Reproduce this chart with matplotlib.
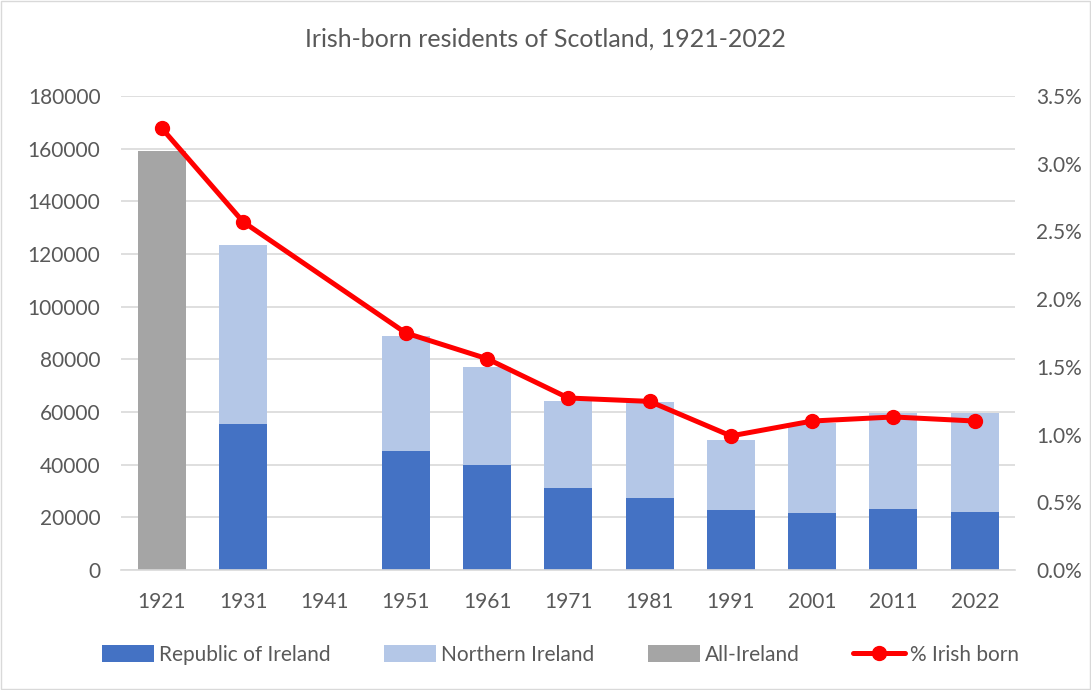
import numpy as np
import matplotlib.pyplot as plt
from matplotlib.patches import Rectangle

years = ['1921', '1931', '1941', '1951', '1961', '1971', '1981', '1991', '2001', '2011', '2022']
republic = [0, 55300, 0, 45100, 39800, 31100, 27300, 22700, 21800, 23100, 22000]
northern = [0, 68200, 0, 43600, 37100, 33000, 36400, 26500, 34000, 36700, 37500]
all_ireland = [159100, 0, 0, 0, 0, 0, 0, 0, 0, 0, 0]
pct_years = ['1921', '1931', '1951', '1961', '1971', '1981', '1991', '2001', '2011', '2022']
pct_irish = [3.26, 2.57, 1.75, 1.56, 1.27, 1.245, 0.99, 1.10, 1.13, 1.10]

txt = '#595959'
plt.rcParams['font.family'] = ['Lato', 'DejaVu Sans']

fig = plt.figure(figsize=(10.91, 6.90), dpi=100)
ax = fig.add_axes([0.1112, 0.1739, 0.8195, 0.6870])
ax2 = ax.twinx()

x = np.arange(len(years))
w = 0.59
b1 = ax.bar(x, republic, w, color='#4472C4', label='Republic of Ireland', zorder=2)
b2 = ax.bar(x, northern, w, bottom=republic, color='#B4C7E7', label='Northern Ireland', zorder=2)
b3 = ax.bar(x, all_ireland, w, color='#A5A5A5', label='All-Ireland', zorder=2)

px = [years.index(y) for y in pct_years]
l1, = ax2.plot(px, pct_irish, color='#FF0000', lw=3.6, marker='o', ms=10,
               label='% Irish born', solid_capstyle='round')

ax.set_xlim(-0.5, len(years) - 0.5)
ax.set_ylim(0, 180000)
ax.set_yticks(np.arange(0, 180001, 20000))
ax2.set_ylim(0, 3.5)
ax2.set_yticks(np.arange(0, 3.51, 0.5))
ax2.set_yticklabels([f'{v:.1f}%' for v in np.arange(0, 3.51, 0.5)])
ax.set_xticks(x)
ax.set_xticklabels(years)

ax.grid(axis='y', color='#D9D9D9', lw=1.2, zorder=0)
ax.set_axisbelow(True)
for a in (ax, ax2):
    for s in a.spines.values():
        s.set_visible(False)
    a.tick_params(length=0, labelsize=15, colors=txt, pad=15)
ax.tick_params(axis='x', pad=16)
ax.spines['bottom'].set_visible(True)
ax.spines['bottom'].set_color('#D9D9D9')
ax.spines['bottom'].set_linewidth(1.2)

fig.suptitle('Irish-born residents of Scotland, 1921-2022', y=0.96, fontsize=18, color=txt)

fig.legend([b1, b2, b3, l1], ['Republic of Ireland', 'Northern Ireland', 'All-Ireland', '% Irish born'],
           loc='center', bbox_to_anchor=(0.514, 0.051), ncol=4, frameon=False,
           fontsize=15, labelcolor=txt, columnspacing=2.55, handlelength=2.5, handleheight=0.9,
           handletextpad=0.25)

fig.patches.append(Rectangle((0.001, 0.001), 0.998, 0.998, transform=fig.transFigure,
                             fill=False, edgecolor='#D9D9D9', lw=1))

fig.savefig('out.png', dpi=100)
